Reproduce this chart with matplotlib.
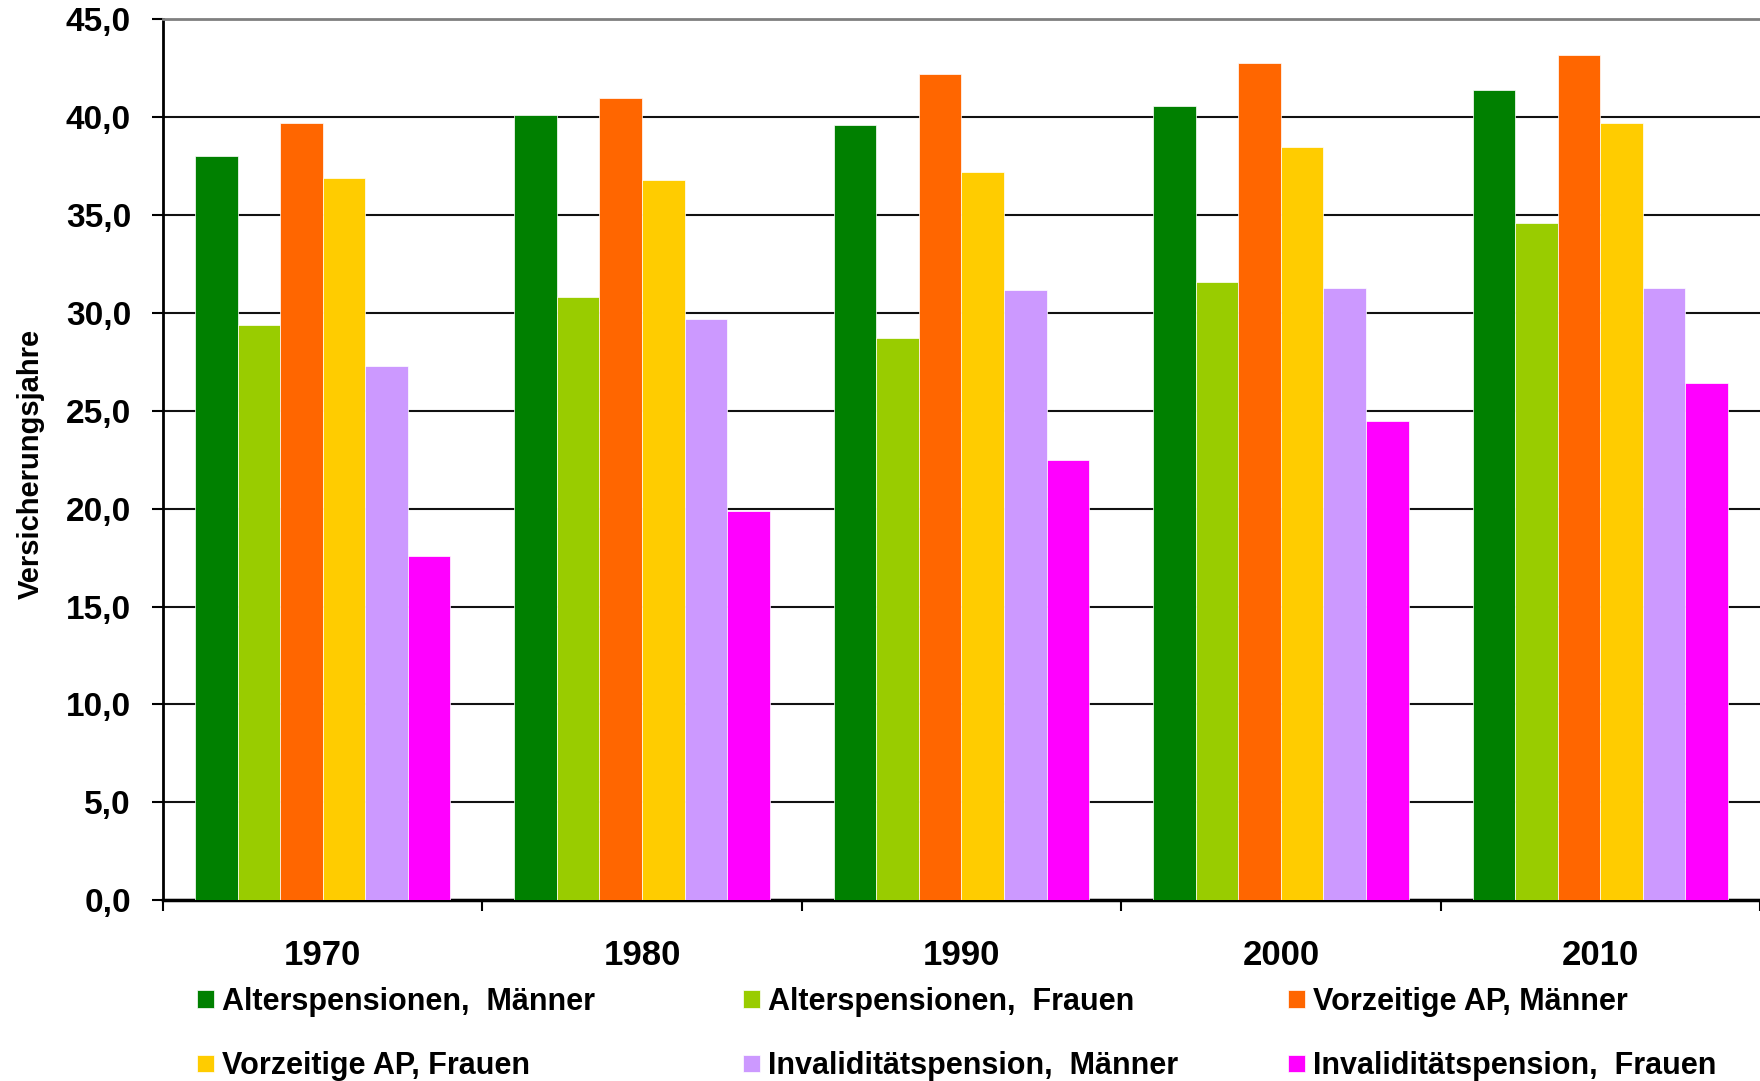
import matplotlib
matplotlib.use("Agg")
import matplotlib.pyplot as plt
import numpy as np
from matplotlib.ticker import FixedLocator, FuncFormatter

plt.rcParams['font.family'] = ['Liberation Sans', 'DejaVu Sans']
plt.rcParams['font.weight'] = 'bold'

years = ['1970', '1980', '1990', '2000', '2010']
series_names = ['Alterspensionen,  Männer', 'Alterspensionen,  Frauen',
                'Vorzeitige AP, Männer', 'Vorzeitige AP, Frauen',
                'Invaliditätspension,  Männer', 'Invaliditätspension,  Frauen']
alters_m = [38.0, 40.1, 39.6, 40.6, 41.4]
alters_f = [29.4, 30.8, 28.7, 31.6, 34.6]
vorz_m = [39.7, 41.0, 42.2, 42.8, 43.2]
vorz_f = [36.9, 36.8, 37.2, 38.5, 39.7]
inval_m = [27.3, 29.7, 31.2, 31.3, 31.3]
inval_f = [17.6, 19.9, 22.5, 24.5, 26.4]
colors = ['#008000', '#99CC00', '#FF6600', '#FFCC00', '#CC99FF', '#FF00FF']
y_ticks = [0, 5, 10, 15, 20, 25, 30, 35, 40, 45]

series = [alters_m, alters_f, vorz_m, vorz_f, inval_m, inval_f]

fig = plt.figure(figsize=(17.6, 10.81), dpi=100)
ax = fig.add_axes([0.0926, 0.1674, 0.9074, 0.8146])

x = np.arange(len(years))
n = len(series)
w = 0.8 / n
handles = []
for i, (vals, c, name) in enumerate(zip(series, colors, series_names)):
    b = ax.bar(x - 0.4 + w * (i + 0.5), vals, width=w, color=c,
               edgecolor='white', linewidth=0.5, label=name, zorder=3)
    handles.append(b)

ax.set_xlim(-0.5, len(years) - 0.5)
ax.set_ylim(0, 45)
ax.set_yticks(y_ticks)
ax.yaxis.set_major_formatter(FuncFormatter(lambda v, p: f"{v:.1f}".replace('.', ',')))
ax.yaxis.grid(True, color='#111111', linewidth=1.5, zorder=0)
ax.set_axisbelow(True)

ax.set_xticks(x)
ax.set_xticklabels(years)
ax.xaxis.set_minor_locator(FixedLocator(np.arange(-0.5, len(years), 1.0)))
ax.tick_params(axis='x', which='major', length=0, pad=28, labelsize=25)
ax.tick_params(axis='x', which='minor', length=8, width=1.5, color='black', direction='out')
ax.tick_params(axis='y', which='major', length=8, width=1.5, pad=15, labelsize=24, direction='out')
for lab in ax.get_xticklabels() + ax.get_yticklabels():
    lab.set_fontweight('bold')

ax.spines['left'].set_linewidth(2.0)
ax.spines['bottom'].set_linewidth(2.5)
ax.spines['top'].set_color('#808080')
ax.spines['top'].set_linewidth(2.0)
ax.spines['right'].set_visible(False)

fig.text(0.0175, 0.571, 'Versicherungsjahre', rotation=90, ha='center', va='center',
         fontsize=21, fontweight='bold')

# legend: three columns of two rows
order = [(0, 3), (1, 4), (2, 5)]
col_x = [197 / 1760, 743 / 1760, 1288 / 1760]
for (a, b), cx in zip(order, col_x):
    fig.legend([handles[a], handles[b]], [series_names[a], series_names[b]],
               loc='center left', bbox_to_anchor=(cx, 0.0435), frameon=False,
               handlelength=0.55, handleheight=0.5,
               handletextpad=0.26, labelspacing=1.12, borderpad=0,
               borderaxespad=0, prop={'weight': 'bold', 'size': 22})

fig.savefig('out.png', dpi=100)
